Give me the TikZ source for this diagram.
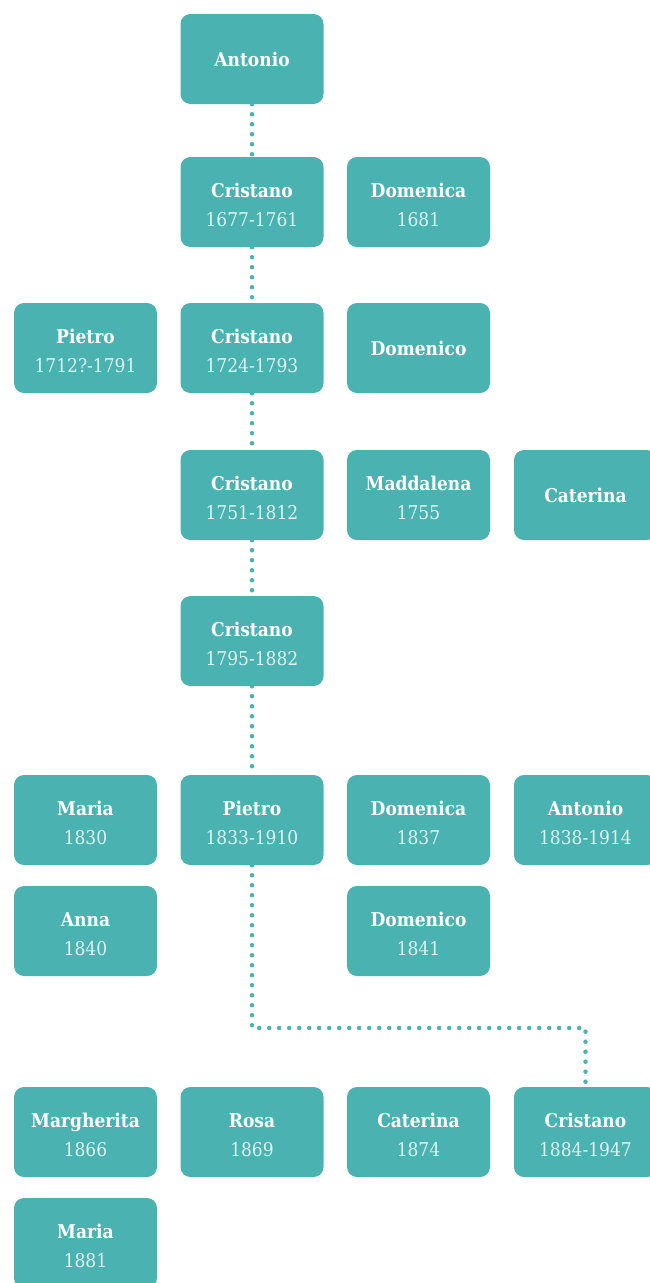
\documentclass[tikz,border=0pt]{standalone}
\usepackage{fontspec}
\setmainfont{DejaVu Serif Condensed}
\newfontfamily\yearfont{DejaVu Serif Condensed}
\definecolor{teal}{RGB}{75,178,178}
\definecolor{yearcol}{RGB}{222,243,241}
\begin{document}
\begin{tikzpicture}[x=1pt,y=-1pt,
  person/.style={fill=teal, rounded corners=10pt, minimum width=143pt, minimum height=90pt,
    inner sep=0pt, align=center, text=white, font=\fontsize{19}{29}\selectfont\bfseries},
  link/.style={draw=teal, line width=4.5pt, line cap=round, dash pattern=on 0pt off 10pt}]
\useasboundingbox (0,0) rectangle (649,1283);
\newcommand{\yr}[1]{\rule{0pt}{20pt}\\{\yearfont\mdseries\color{yearcol}#1}}
% columns
\def\ca{85.5} \def\cb{252} \def\cc{418.5} \def\cd{585.5}
\node[person] (antonio) at (\cb,59) {Antonio};
\node[person] (cristano1) at (\cb,202) {Cristano\yr{1677-1761}};
\node[person] (domenica1) at (\cc,202) {Domenica\yr{1681}};
\node[person] (pietro1) at (\ca,348) {Pietro\yr{1712?-1791}};
\node[person] (cristano2) at (\cb,348) {Cristano\yr{1724-1793}};
\node[person] (domenico1) at (\cc,348) {Domenico};
\node[person] (cristano3) at (\cb,495) {Cristano\yr{1751-1812}};
\node[person] (maddalena) at (\cc,495) {Maddalena\yr{1755}};
\node[person] (caterina1) at (\cd,495) {Caterina};
\node[person] (cristano4) at (\cb,641) {Cristano\yr{1795-1882}};
\node[person] (maria1) at (\ca,820) {Maria\yr{1830}};
\node[person] (pietro2) at (\cb,820) {Pietro\yr{1833-1910}};
\node[person] (domenica2) at (\cc,820) {Domenica\yr{1837}};
\node[person] (antonio2) at (\cd,820) {Antonio\yr{1838-1914}};
\node[person] (anna) at (\ca,931) {Anna\yr{1840}};
\node[person] (domenico2) at (\cc,931) {Domenico\yr{1841}};
\node[person] (margherita) at (\ca,1132) {Margherita\yr{1866}};
\node[person] (rosa) at (\cb,1132) {Rosa\yr{1869}};
\node[person] (caterina2) at (\cc,1132) {Caterina\yr{1874}};
\node[person] (cristano5) at (\cd,1132) {Cristano\yr{1884-1947}};
\node[person] (maria2) at (\ca,1243) {Maria\yr{1881}};
% links
\draw[link] (antonio.south) -- (cristano1.north);
\draw[link] (cristano1.south) -- (cristano2.north);
\draw[link] (cristano2.south) -- (cristano3.north);
\draw[link] (cristano3.south) -- (cristano4.north);
\draw[link] (cristano4.south) -- (pietro2.north);
\coordinate (bend1) at (\cb,1028);
\coordinate (bend2) at (\cd,1028);
\draw[link] (pietro2.south) -- (bend1) -- (bend2) -- ([yshift=-6pt]cristano5.north);
\end{tikzpicture}
\end{document}
